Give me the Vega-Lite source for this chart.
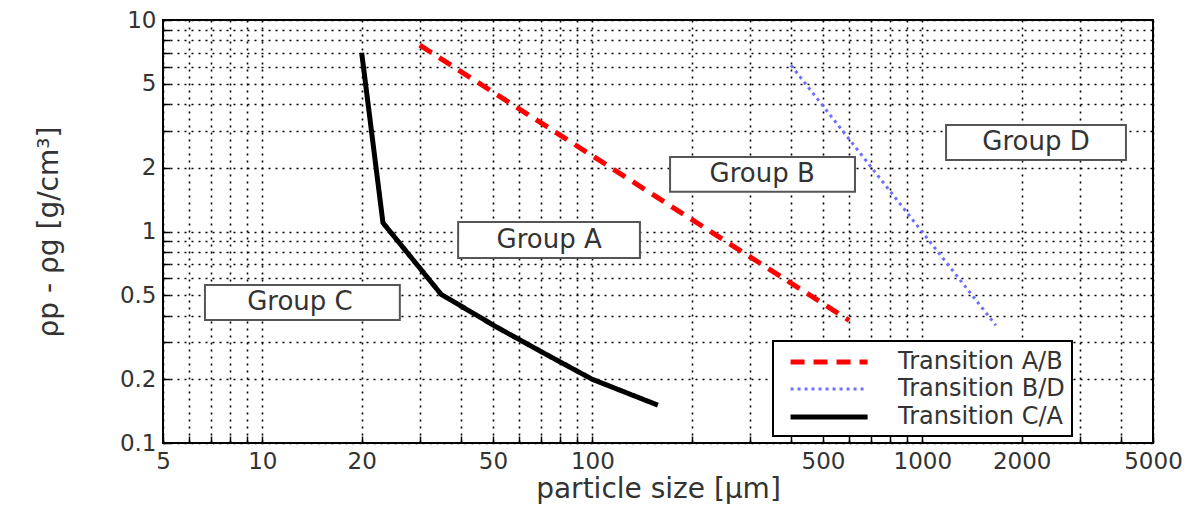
{
  "$schema": "https://vega.github.io/schema/vega-lite/v6.json",
  "width": 990,
  "height": 423,
  "autosize": {"type": "none"},
  "padding": {"left": 163, "top": 20, "right": 46, "bottom": 62},
  "background": "white",
  "config": {
    "view": {"stroke": "black", "strokeWidth": 2},
    "font": "DejaVu Sans",
    "axis": {
      "labelFont": "DejaVu Sans",
      "labelFontSize": 23,
      "labelColor": "#333333",
      "titleFont": "DejaVu Sans",
      "titleFontSize": 28,
      "titleFontWeight": "normal",
      "titleColor": "#333333",
      "grid": true,
      "gridColor": "black",
      "gridDash": [2, 5],
      "gridWidth": 1.6,
      "gridOpacity": 1,
      "domain": false,
      "tickColor": "black",
      "tickSize": -7,
      "tickWidth": 1.5,
      "labelOverlap": false,
      "labelFlush": false
    },
    "legend": {
      "orient": "none",
      "legendX": 610,
      "legendY": 321,
      "title": null,
      "fillColor": "white",
      "strokeColor": "black",
      "strokeWidth": 2,
      "padding": 7,
      "labelFont": "DejaVu Sans",
      "labelFontSize": 24,
      "labelColor": "#333333",
      "symbolType": "M-0.3,0H6.4",
      "symbolSize": 529,
      "labelOffset": 90,
      "rowPadding": 2,
      "labelLimit": 400
    }
  },
  "datasets": {
    "curves": [
      {"series": "Transition A/B", "d": 30, "rho": 7.6},
      {"series": "Transition A/B", "d": 600, "rho": 0.38},
      {"series": "Transition B/D", "d": 400, "rho": 6.1},
      {"series": "Transition B/D", "d": 1670, "rho": 0.36},
      {"series": "Transition C/A", "d": 20, "rho": 7.0},
      {"series": "Transition C/A", "d": 23.2, "rho": 1.1},
      {"series": "Transition C/A", "d": 34.8, "rho": 0.505},
      {"series": "Transition C/A", "d": 51, "rho": 0.355},
      {"series": "Transition C/A", "d": 71, "rho": 0.267},
      {"series": "Transition C/A", "d": 100, "rho": 0.2},
      {"series": "Transition C/A", "d": 158, "rho": 0.151}
    ],
    "groups": [
      {"label": "Group C", "d0": 6.7, "d1": 26.1, "r0": 0.382, "r1": 0.558, "dc": 13.0, "rc": 0.465},
      {"label": "Group A", "d0": 39.2, "d1": 139.4, "r0": 0.75, "r1": 1.11, "dc": 74, "rc": 0.91},
      {"label": "Group B", "d0": 172, "d1": 625, "r0": 1.54, "r1": 2.25, "dc": 327, "rc": 1.87},
      {"label": "Group D", "d0": 1180, "d1": 4140, "r0": 2.18, "r1": 3.19, "dc": 2210, "rc": 2.65}
    ]
  },
  "layer": [
    {
      "data": {"name": "groups"},
      "mark": {"type": "rect", "fill": "white", "stroke": "#555555", "strokeWidth": 2},
      "encoding": {
        "x": {
          "field": "d0", "type": "quantitative",
          "scale": {"type": "log", "domain": [5, 5000], "nice": false},
          "axis": {
            "title": "particle size [µm]",
            "values": [5, 6, 7, 8, 9, 10, 20, 30, 40, 50, 60, 70, 80, 90, 100, 200, 300, 400, 500, 600, 700, 800, 900, 1000, 2000, 3000, 4000, 5000],
            "labelExpr": "indexof([5, 10, 20, 50, 100, 500, 1000, 2000, 5000], datum.value) >= 0 ? format(datum.value, '~g') : ''",
            "labelPadding": 14,
            "titlePadding": 2
          }
        },
        "x2": {"field": "d1"},
        "y": {
          "field": "r0", "type": "quantitative",
          "scale": {"type": "log", "domain": [0.1, 10], "nice": false},
          "axis": {
            "title": "ρp - ρg [g/cm³]",
            "values": [0.1, 0.2, 0.3, 0.4, 0.5, 0.6, 0.7, 0.8, 0.9, 1, 2, 3, 4, 5, 6, 7, 8, 9, 10],
            "labelExpr": "indexof([0.1, 0.2, 0.5, 1, 2, 5, 10], datum.value) >= 0 ? format(datum.value, '~g') : ''",
            "labelPadding": 14,
            "titlePadding": 56
          }
        },
        "y2": {"field": "r1"}
      }
    },
    {
      "data": {"name": "groups"},
      "mark": {"type": "text", "font": "DejaVu Sans", "fontSize": 26, "color": "#333333", "align": "center", "baseline": "middle"},
      "encoding": {
        "x": {"field": "dc", "type": "quantitative"},
        "y": {"field": "rc", "type": "quantitative"},
        "text": {"field": "label"}
      }
    },
    {
      "data": {"name": "curves"},
      "mark": {"type": "line", "clip": true},
      "encoding": {
        "x": {"field": "d", "type": "quantitative"},
        "y": {"field": "rho", "type": "quantitative"},
        "order": {"field": "d", "type": "quantitative"},
        "color": {
          "field": "series", "type": "nominal",
          "scale": {"domain": ["Transition A/B", "Transition B/D", "Transition C/A"], "range": ["#ff0000", "#6f6fff", "#000000"]}
        },
        "strokeDash": {
          "field": "series", "type": "nominal",
          "scale": {"domain": ["Transition A/B", "Transition B/D", "Transition C/A"], "range": [[14, 9], [3, 4], [1, 0]]}
        },
        "strokeWidth": {
          "field": "series", "type": "nominal",
          "scale": {"type": "ordinal", "domain": ["Transition A/B", "Transition B/D", "Transition C/A"], "range": [5, 3, 5]}
        }
      }
    }
  ]
}
